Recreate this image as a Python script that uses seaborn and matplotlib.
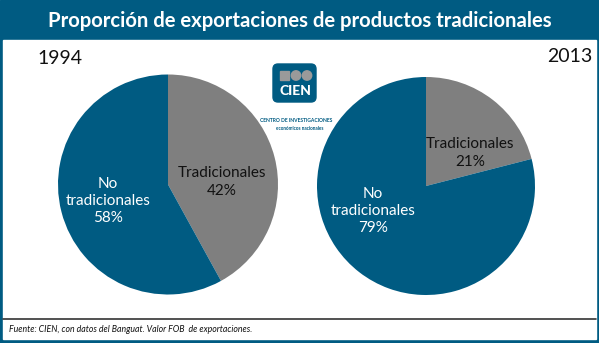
import matplotlib
matplotlib.use("Agg")
import matplotlib.pyplot as plt
from matplotlib.patches import Rectangle, FancyBboxPatch, Circle
import seaborn as sns

sns.set_theme(style="white")
plt.rcParams["font.family"] = ["Lato", "DejaVu Sans"]

# Data
years = ["1994", "2013"]
categories = ["Tradicionales", "No\ntradicionales"]
shares_1994 = [42, 58]
shares_2013 = [21, 79]

BLUE = "#005b82"
GREY = "#7f7f7f"
palette = sns.color_palette([GREY, BLUE])

W, H = 599, 343
fig = plt.figure(figsize=(W / 100, H / 100), dpi=100)


def pixel_axes(zorder):
    ax = fig.add_axes([0, 0, 1, 1], zorder=zorder)
    ax.set_xlim(0, W)
    ax.set_ylim(H, 0)
    ax.axis("off")
    ax.patch.set_alpha(0)
    return ax


# Background frame, title and footer
bg = pixel_axes(0)
bg.add_patch(Rectangle((0, 0), W, H, color=BLUE, zorder=0))
bg.add_patch(Rectangle((3, 40), W - 6, H - 44, color="white", zorder=1))
bg.plot([3, W - 3], [319, 319], color="#333333", lw=1.2, zorder=2)
bg.text(W / 2, 21, "Proporción de exportaciones de productos tradicionales",
        color="white", fontsize=14.6, fontweight="bold", ha="center", va="center")
bg.text(60, 59, years[0], fontsize=14, ha="center", va="center", color="#111111")
bg.text(570, 57, years[1], fontsize=14, ha="center", va="center", color="#111111")
bg.text(9, 329, "Fuente: CIEN, con datos del Banguat. Valor FOB  de exportaciones.",
        fontsize=6.3, style="italic", ha="left", va="center", color="#111111")

# Logo
bg.add_patch(FancyBboxPatch((273, 64), 43, 38, boxstyle="round,pad=0,rounding_size=5",
                            color=BLUE, zorder=3))
bg.add_patch(Rectangle((280, 71), 9, 9, color="#9a9a9a", zorder=4))
bg.add_patch(Circle((296, 75.5), 4.7, color="#9a9a9a", zorder=4))
bg.add_patch(Circle((307, 75.5), 4.7, color="#9a9a9a", zorder=4))
bg.text(295, 91, "CIEN", color="white", fontsize=10, fontweight="black",
        ha="center", va="center", zorder=5)
bg.text(296, 121, "CENTRO DE INVESTIGACIONES", color=BLUE, fontsize=3.6,
        fontweight="bold", ha="center", va="center")
bg.text(300, 128, "económicos nacionales", color=BLUE, fontsize=3.4,
        fontweight="bold", ha="center", va="center")


def draw_pie(cx, cy, r, values):
    ax = fig.add_axes([(cx - r) / W, 1 - (cy + r) / H, 2 * r / W, 2 * r / H], zorder=1)
    ax.pie(values, colors=palette, startangle=90, counterclock=False,
           radius=1, wedgeprops=dict(linewidth=0))
    ax.set_xlim(-1, 1)
    ax.set_ylim(-1, 1)
    ax.set_aspect("auto")
    ax.axis("off")


draw_pie(168, 184.5, 110, shares_1994)
draw_pie(426, 186, 109, shares_2013)

# Slice labels on top of the pies
top = pixel_axes(2)


def label_pie(values, label_pos):
    for (lx, ly), cat, v, col in zip(label_pos, categories, values, ["#111111", "white"]):
        top.text(lx, ly, f"{cat}\n{v}%", ha="center", va="center", fontsize=11,
                 color=col, linespacing=1.3)


label_pie(shares_1994, [(222, 182), (108, 201)])
label_pie(shares_2013, [(470, 153), (373, 211)])

fig.savefig("out.png", dpi=100)
